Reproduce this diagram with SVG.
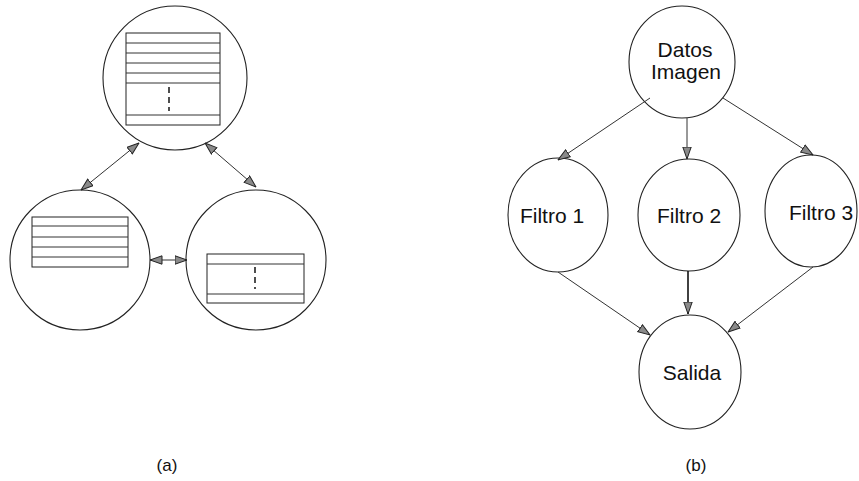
<svg xmlns="http://www.w3.org/2000/svg" width="859" height="481" viewBox="0 0 859 481">
  <defs>
    <style>
      .node { fill: #fff; stroke: #222; stroke-width: 1.1; }
      .tbl { fill: none; stroke: #222; stroke-width: 1; }
      .row { stroke: #333; stroke-width: 1; }
      .dots { stroke: #222; stroke-width: 1.6; stroke-dasharray: 6 4; }
      .edge { fill: none; stroke: #333; stroke-width: 1; }
      .edge.bold { stroke: #111; stroke-width: 1.6; }
      .lbl { font-family: "Liberation Sans", Arial, sans-serif; font-size: 21px; fill: #111; text-anchor: middle; }
      .cap { font-family: "Liberation Sans", Arial, sans-serif; font-size: 17px; fill: #111; text-anchor: middle; }
    </style>
    <marker id="head" viewBox="0 0 13 10" refX="12.5" refY="5" markerWidth="13" markerHeight="10" markerUnits="userSpaceOnUse" orient="auto-start-reverse">
      <path d="M0.5,0.8 L12.5,5 L0.5,9.2 z" fill="#8a8a8a" stroke="#222" stroke-width="1"/>
    </marker>
  </defs>

  <!-- Part (a): three memory nodes -->
  <g id="node-a-top">
    <circle class="node" cx="175" cy="78" r="72"/>
    <rect class="tbl" x="126" y="33" width="94" height="92"/>
    <line class="row" x1="126" y1="43" x2="220" y2="43"/>
    <line class="row" x1="126" y1="53" x2="220" y2="53"/>
    <line class="row" x1="126" y1="63" x2="220" y2="63"/>
    <line class="row" x1="126" y1="73" x2="220" y2="73"/>
    <line class="row" x1="126" y1="83" x2="220" y2="83"/>
    <line class="row" x1="126" y1="115" x2="220" y2="115"/>
    <line class="dots" x1="169" y1="87" x2="169" y2="111"/>
  </g>

  <g id="node-a-left">
    <circle class="node" cx="80" cy="260" r="70"/>
    <rect class="tbl" x="32" y="217" width="96" height="50"/>
    <line class="row" x1="32" y1="226" x2="128" y2="226"/>
    <line class="row" x1="32" y1="237" x2="128" y2="237"/>
    <line class="row" x1="32" y1="247" x2="128" y2="247"/>
    <line class="row" x1="32" y1="257" x2="128" y2="257"/>
  </g>

  <g id="node-a-right">
    <circle class="node" cx="256" cy="260" r="70"/>
    <rect class="tbl" x="207" y="254" width="97" height="49"/>
    <line class="row" x1="207" y1="264" x2="304" y2="264"/>
    <line class="row" x1="207" y1="294" x2="304" y2="294"/>
    <line class="dots" x1="255" y1="267" x2="255" y2="289"/>
  </g>

  <!-- Part (b): processing graph -->
  <g id="node-datos">
    <ellipse class="node" cx="682" cy="62" rx="53" ry="56"/>
    <text class="lbl" x="685" y="57">Datos</text>
    <text class="lbl" x="686" y="79">Imagen</text>
  </g>

  <g id="node-filtro1">
    <ellipse class="node" cx="558" cy="215" rx="50" ry="57"/>
    <text class="lbl" x="552" y="223">Filtro 1</text>
  </g>

  <g id="node-filtro2">
    <ellipse class="node" cx="689" cy="215" rx="51" ry="56"/>
    <text class="lbl" x="689" y="223">Filtro 2</text>
  </g>

  <g id="node-filtro3">
    <ellipse class="node" cx="811" cy="211" rx="46" ry="56"/>
    <text class="lbl" x="821" y="220">Filtro 3</text>
  </g>

  <g id="node-salida">
    <ellipse class="node" cx="690" cy="372" rx="51" ry="57"/>
    <text class="lbl" x="692" y="380">Salida</text>
  </g>

  <!-- Connectors -->
  <g id="connectors">
    <path class="edge" d="M139,143 L81,190" marker-start="url(#head)" marker-end="url(#head)"/>
    <path class="edge" d="M205,143 L256,187" marker-start="url(#head)" marker-end="url(#head)"/>
    <path class="edge" d="M150,260 L187,260" marker-start="url(#head)" marker-end="url(#head)"/>

    <path class="edge" d="M650,98 L558,160" marker-end="url(#head)"/>
    <path class="edge" d="M687,118 L687,159" marker-end="url(#head)"/>
    <path class="edge" d="M723,98 L813,155" marker-end="url(#head)"/>
    <path class="edge" d="M558,272 L650,335" marker-end="url(#head)"/>
    <path class="edge bold" d="M688,271 L688,314" marker-end="url(#head)"/>
    <path class="edge" d="M813,267 L728,332" marker-end="url(#head)"/>
  </g>

  <!-- Sub-figure captions -->
  <text class="cap" x="167" y="471">(a)</text>
  <text class="cap" x="696" y="471">(b)</text>
</svg>
